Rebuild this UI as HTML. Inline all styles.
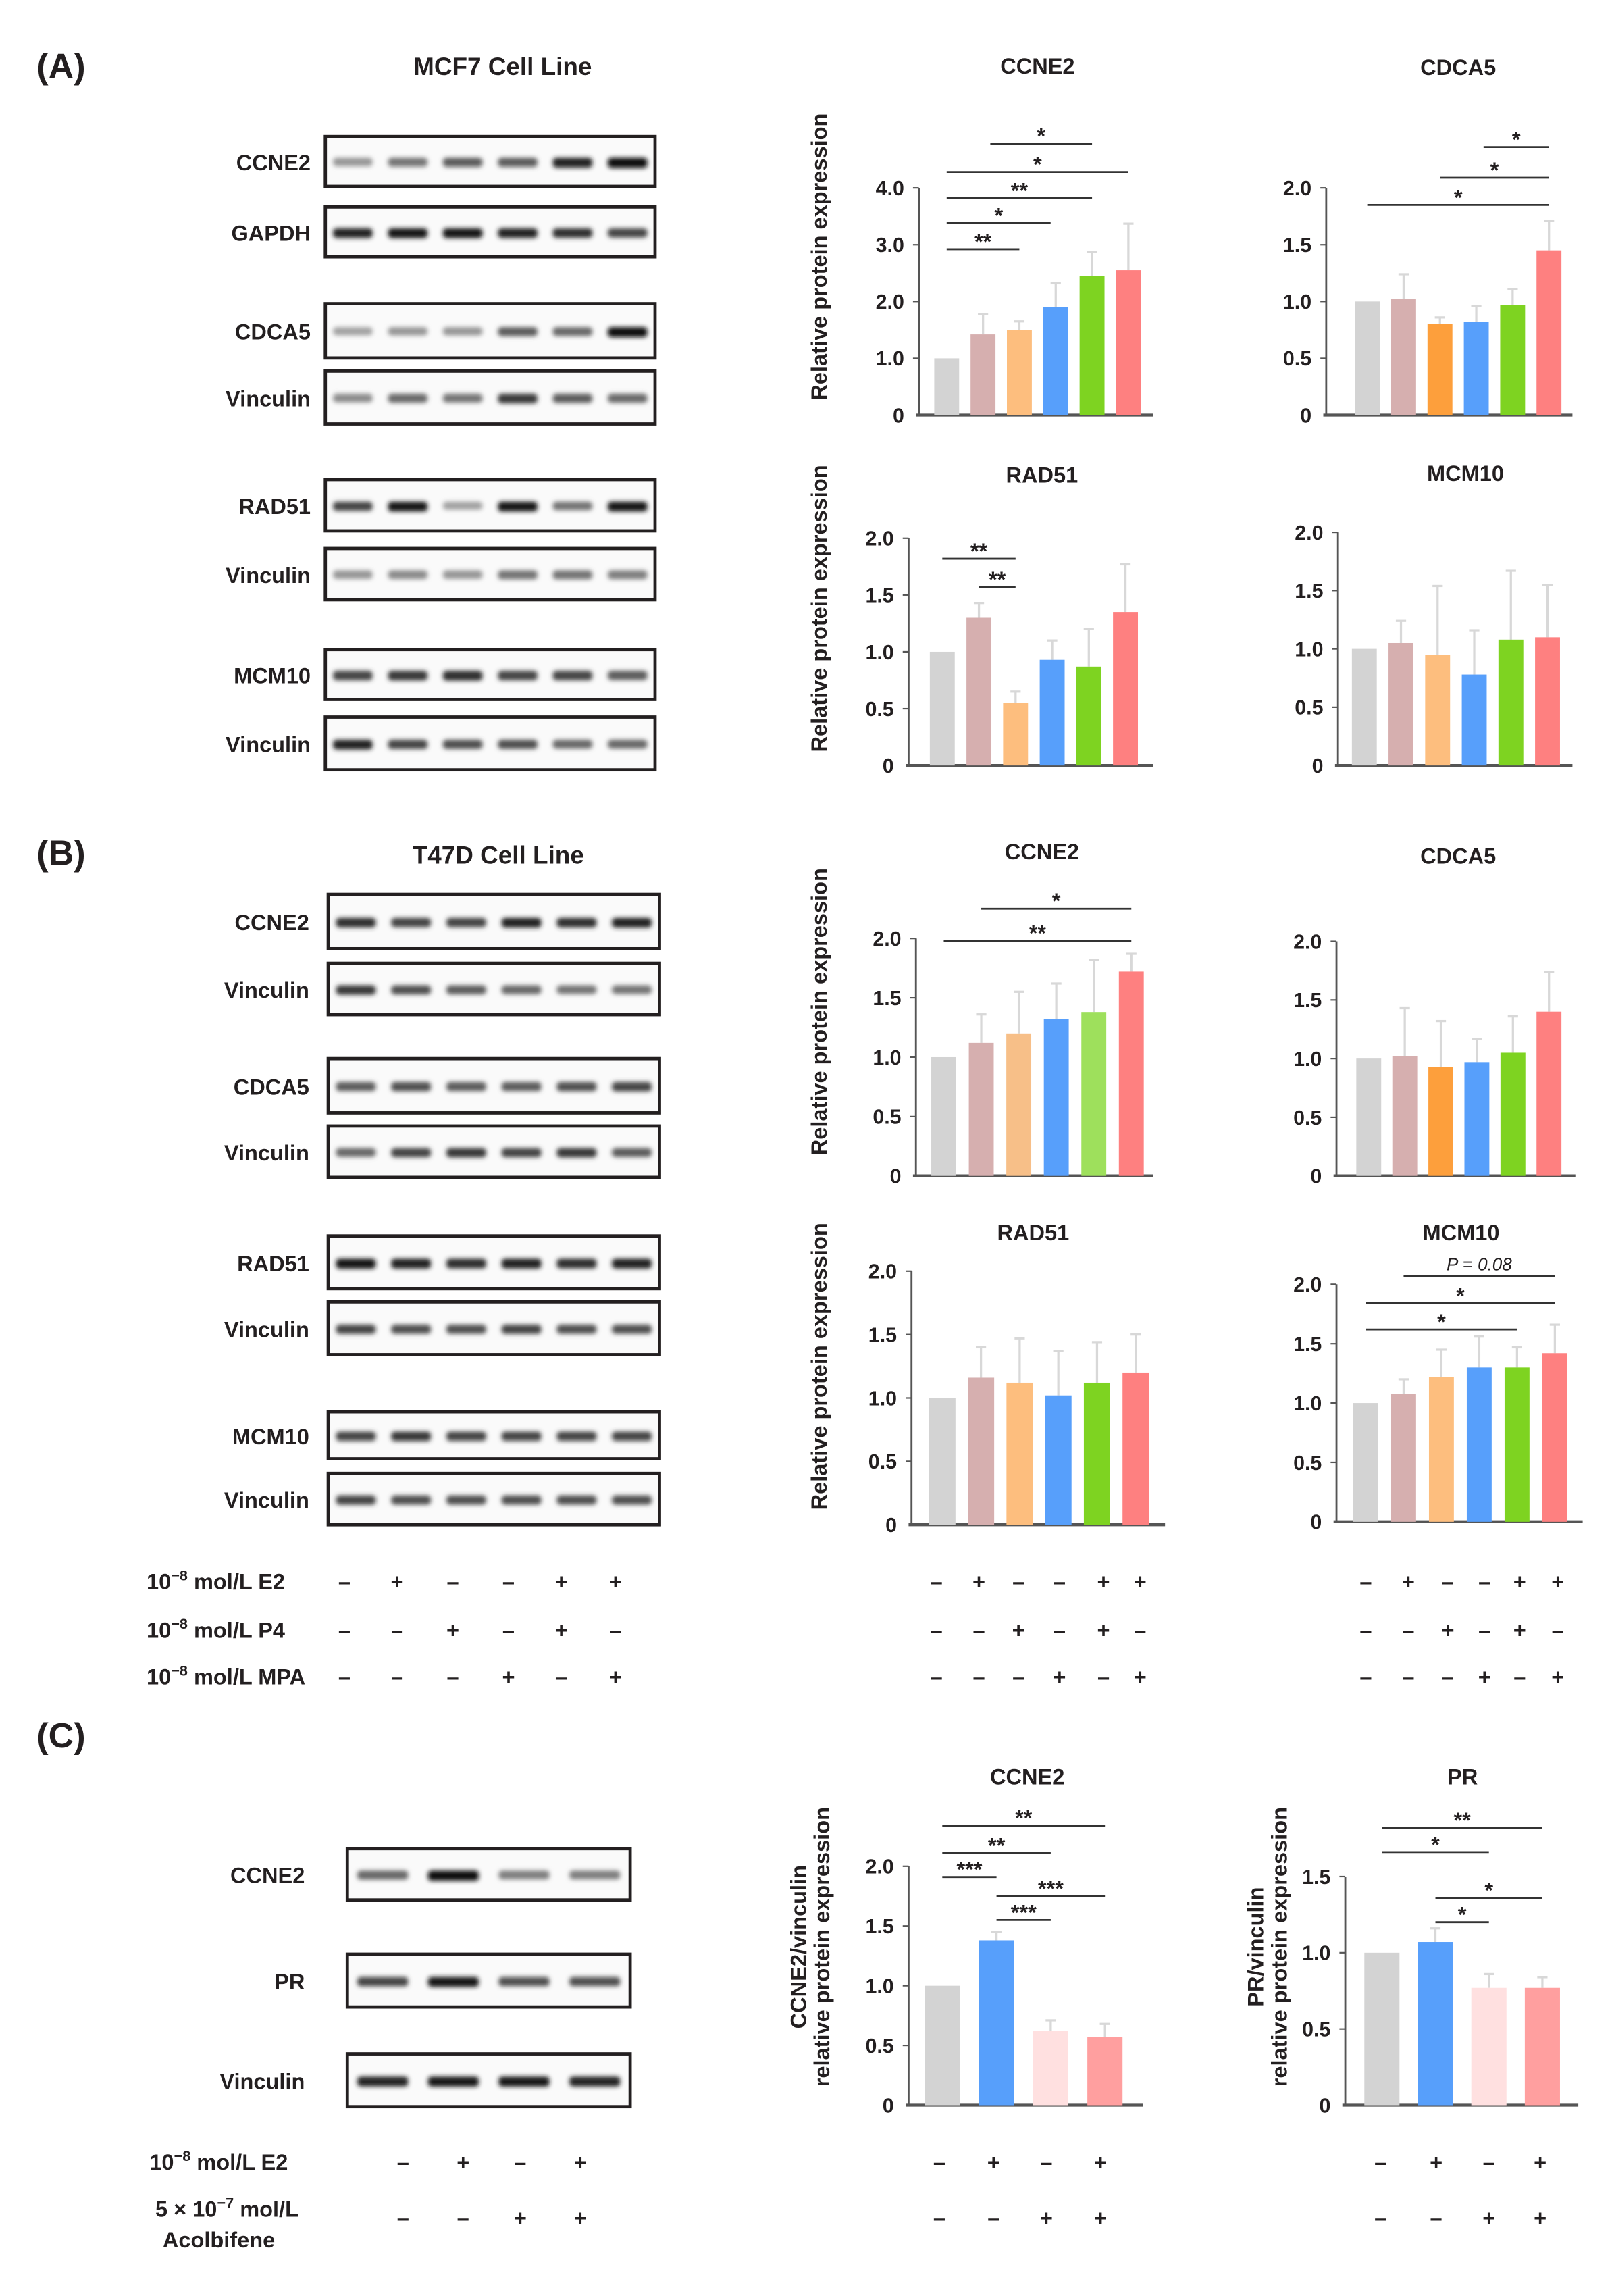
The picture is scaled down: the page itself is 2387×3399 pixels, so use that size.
<!DOCTYPE html>
<html><head><meta charset="utf-8"><style>
html,body{margin:0;padding:0;background:#fff;}
svg{display:block;}
text{font-family:"Liberation Sans",Arial,sans-serif;font-weight:bold;fill:#231f20;}
</style></head><body>
<svg id="fig" width="2387" height="3399" viewBox="0 0 1100 1566" xmlns="http://www.w3.org/2000/svg">
<defs><filter id="blur" x="-20%" y="-100%" width="140%" height="300%"><feGaussianBlur stdDeviation="1.6"/></filter></defs>
</svg>
<script>
// ---- chart data ----
const colors6=["#d3d3d3","#d6afaf","#fdbe7e","#579ffb","#7ed321","#fe8080"];
const colorsA2=["#d3d3d3","#d6afaf","#fd9f3c","#579ffb","#7ed321","#fe8080"];
const colorsB1=["#d3d3d3","#d6afaf","#f7bf88","#579ffb","#9ee05c","#fe8080"];
const colorsC=["#d3d3d3","#579ffb","#ffe0e0","#ff9f9f"];

const aCcne2Values=[1.0,1.42,1.5,1.9,2.45,2.55];
const aCcne2Err=[0,0.36,0.15,0.42,0.42,0.82];
const aCdca5Values=[1.0,1.02,0.8,0.82,0.97,1.45];
const aCdca5Err=[0,0.22,0.06,0.14,0.14,0.26];
const aRad51Values=[1.0,1.3,0.55,0.93,0.87,1.35];
const aRad51Err=[0,0.13,0.1,0.17,0.33,0.42];
const aMcm10Values=[1.0,1.05,0.95,0.78,1.08,1.1];
const aMcm10Err=[0,0.19,0.59,0.38,0.59,0.45];
const bCcne2Values=[1.0,1.12,1.2,1.32,1.38,1.72];
const bCcne2Err=[0,0.24,0.35,0.3,0.44,0.15];
const bCdca5Values=[1.0,1.02,0.93,0.97,1.05,1.4];
const bCdca5Err=[0,0.41,0.39,0.2,0.31,0.34];
const bRad51Values=[1.0,1.16,1.12,1.02,1.12,1.2];
const bRad51Err=[0,0.24,0.35,0.35,0.32,0.3];
const bMcm10Values=[1.0,1.08,1.22,1.3,1.3,1.42];
const bMcm10Err=[0,0.12,0.23,0.26,0.17,0.24];
const cCcne2Values=[1.0,1.38,0.62,0.57];
const cCcne2Err=[0,0.07,0.09,0.11];
const cPrValues=[1.0,1.07,0.77,0.77];
const cPrErr=[0,0.09,0.09,0.07];

const ticks4=["0","1.0","2.0","3.0","4.0"];
const ticks2=["0","0.5","1.0","1.5","2.0"];
const ticks15=["0","0.5","1.0","1.5"];

// brackets: [fromBar,toBar,yValue,label]
const aCcne2Sig=[[0,2,2.92,"**"],[0,2.86,3.38,"*"],[0,4,3.82,"**"],[0,5,4.28,"*"],[1.2,4,4.78,"*"]];
const aCdca5Sig=[[0,5,1.85,"*"],[2,5,2.09,"*"],[3.2,5,2.36,"*"]];
const aRad51Sig=[[0,2,1.82,"**"],[1,2,1.57,"**"]];
const bCcne2Sig=[[0,5,1.98,"**"],[1,5,2.25,"*"]];
const bMcm10Sig=[[0,4,1.62,"*"],[0,5,1.84,"*"],[1,5,2.07,"P = 0.08"]];
const cCcne2Sig=[[0,3,2.34,"**"],[0,2,2.11,"**"],[0,1,1.91,"***"],[1,3,1.75,"***"],[1,2,1.55,"***"]];
const cPrSig=[[0,3,1.82,"**"],[0,2,1.66,"*"],[1,3,1.36,"*"],[1,2,1.2,"*"]];

const svg=document.getElementById('fig');
const NS="http://www.w3.org/2000/svg";
function mk(tag,attrs,parent){const e=document.createElementNS(NS,tag);for(const k in attrs)e.setAttribute(k,attrs[k]);(parent||svg).appendChild(e);return e;}
function txt(x,y,s,size,anchor,parent){const t=mk('text',{x:x,y:y,'font-size':size,'text-anchor':anchor||'middle'},parent);t.textContent=s;return t;}

function chart(name,cfg){
  const g=mk('g',{});
  
  
  const max=cfg.max, y=v=>cfg.y0-(v/max)*(cfg.y0-cfg.yTop);
  const cx=i=>cfg.x1+i*cfg.step;
  const ya=mk('line',{x1:cfg.ax,y1:cfg.yTop,x2:cfg.ax,y2:cfg.y0,stroke:'#555','stroke-width':1.3},g);
  
  
  const xa=mk('line',{x1:cfg.ax-2,y1:cfg.y0,x2:cfg.xEnd,y2:cfg.y0,stroke:'#555','stroke-width':2},g);
  
  
  cfg.ticks.forEach((t,i)=>{
    const v=parseFloat(t), yy=y(v);
    if(i>0){mk('line',{x1:cfg.ax-4,y1:yy,x2:cfg.ax,y2:yy,stroke:'#555','stroke-width':1},g);}
    const tl=txt(cfg.ax-10,yy+5,t,14,'end',g);
    
    
  });
  cfg.values.forEach((v,i)=>{
    const e=cfg.err[i], c=cx(i);
    if(e>0){
      mk('line',{x1:c,y1:y(v),x2:c,y2:y(v+e),stroke:'#d8d8d8','stroke-width':1.5},g);
      mk('line',{x1:c-3.5,y1:y(v+e),x2:c+3.5,y2:y(v+e),stroke:'#d8d8d8','stroke-width':1.5},g);
    }
    const b=mk('rect',{x:c-cfg.bw/2,y:y(v),width:cfg.bw,height:cfg.y0-y(v),fill:cfg.colors[i]},g);
    
    
  });
  (cfg.sig||[]).forEach(s=>{
    const yy=y(s[2]);
    const l=mk('line',{x1:cx(s[0]),y1:yy,x2:cx(s[1]),y2:yy,stroke:'#333','stroke-width':1.3},g);
    
    
    const mid=(cx(s[0])+cx(s[1]))/2;
    const isP=s[3].startsWith('P');
    const st=txt(mid,isP?yy-4:yy+0,s[3],isP?12:15,'middle',g);
    if(isP){st.setAttribute('style','font-weight:normal;font-style:italic');}
    
    
  });
  const ti=txt(cfg.tx,cfg.ty,cfg.title,15,'middle',g);
  
  
}

chart('chart-a-ccne2',{values:aCcne2Values,err:aCcne2Err,colors:colors6,max:4,ticks:ticks4,ax:627,y0:283,yTop:128,x1:646,step:24.8,bw:17,xEnd:787,sig:aCcne2Sig,title:'CCNE2',tx:708,ty:50});
chart('chart-a-cdca5',{values:aCdca5Values,err:aCdca5Err,colors:colorsA2,max:2,ticks:ticks2,ax:905,y0:283,yTop:128,x1:933,step:24.8,bw:17,xEnd:1073,sig:aCdca5Sig,title:'CDCA5',tx:995,ty:51});
chart('chart-a-rad51',{values:aRad51Values,err:aRad51Err,colors:colors6,max:2,ticks:ticks2,ax:620,y0:522,yTop:367,x1:643,step:25,bw:17,xEnd:787,sig:aRad51Sig,title:'RAD51',tx:711,ty:329});
chart('chart-a-mcm10',{values:aMcm10Values,err:aMcm10Err,colors:colors6,max:2,ticks:ticks2,ax:913,y0:522,yTop:363,x1:931,step:25,bw:17,xEnd:1073,sig:[],title:'MCM10',tx:1000,ty:328});
chart('chart-b-ccne2',{values:bCcne2Values,err:bCcne2Err,colors:colorsB1,max:2,ticks:ticks2,ax:625,y0:802,yTop:640,x1:644,step:25.6,bw:17,xEnd:787,sig:bCcne2Sig,title:'CCNE2',tx:711,ty:586});
chart('chart-b-cdca5',{values:bCdca5Values,err:bCdca5Err,colors:colorsA2,max:2,ticks:ticks2,ax:912,y0:802,yTop:642,x1:934,step:24.6,bw:17,xEnd:1075,sig:[],title:'CDCA5',tx:995,ty:589});
chart('chart-b-rad51',{values:bRad51Values,err:bRad51Err,colors:colors6,max:2,ticks:ticks2,ax:622,y0:1040,yTop:867,x1:643,step:26.4,bw:18,xEnd:795,sig:[],title:'RAD51',tx:705,ty:846});
chart('chart-b-mcm10',{values:bMcm10Values,err:bMcm10Err,colors:colors6,max:2,ticks:ticks2,ax:912,y0:1038,yTop:876,x1:932,step:25.8,bw:17,xEnd:1080,sig:bMcm10Sig,title:'MCM10',tx:997,ty:846});
chart('chart-c-ccne2',{values:cCcne2Values,err:cCcne2Err,colors:colorsC,max:2,ticks:ticks2,ax:620,y0:1436,yTop:1273,x1:643,step:37,bw:24,xEnd:780,sig:cCcne2Sig,title:'CCNE2',tx:701,ty:1217});
chart('chart-c-pr',{values:cPrValues,err:cPrErr,colors:colorsC,max:1.5,ticks:ticks15,ax:918,y0:1436,yTop:1280,x1:943,step:36.5,bw:24,xEnd:1077,sig:cPrSig,title:'PR',tx:998,ty:1217});

function ytitle(x,y,lines){
  const g=mk('g',{transform:`translate(${x},${y}) rotate(-90)`});
  lines.forEach((l,i)=>{const t=txt(0,i*16,l,15,'middle',g);
    
    });
}
ytitle(564,175,["Relative protein expression"]);
ytitle(564,415,["Relative protein expression"]);
ytitle(564,690,["Relative protein expression"]);
ytitle(564,932,["Relative protein expression"]);
ytitle(550,1328,["CCNE2/vinculin","relative protein expression"]);
ytitle(862,1328,["PR/vinculin","relative protein expression"]);

[["(A)",25,53],["(B)",25,590],["(C)",25,1192]].forEach(p=>{const t=txt(p[1],p[2],p[0],24,'start');
  
  });
let tt=txt(343,51,"MCF7 Cell Line",17);


tt=txt(340,589,"T47D Cell Line",17);



const blotA=[["CCNE2",93,127,[0.35,0.5,0.6,0.6,0.85,0.95]],["GAPDH",141,175,[0.85,0.9,0.9,0.85,0.8,0.7]],["CDCA5",207,244,[0.3,0.35,0.35,0.6,0.55,0.95]],["Vinculin",253,289,[0.4,0.55,0.5,0.75,0.6,0.55]],["RAD51",327,362,[0.7,0.9,0.3,0.9,0.5,0.9]],["Vinculin",374,409,[0.35,0.4,0.35,0.5,0.5,0.45]],["MCM10",443,477,[0.7,0.75,0.8,0.7,0.7,0.6]],["Vinculin",489,525,[0.85,0.7,0.65,0.65,0.55,0.55]]];
const blotB=[["CCNE2",610,647,[0.8,0.7,0.7,0.85,0.8,0.85]],["Vinculin",657,692,[0.75,0.65,0.6,0.55,0.5,0.5]],["CDCA5",722,759,[0.6,0.65,0.6,0.6,0.65,0.7]],["Vinculin",768,803,[0.55,0.7,0.75,0.7,0.75,0.6]],["RAD51",843,879,[0.9,0.85,0.8,0.85,0.8,0.85]],["Vinculin",888,924,[0.7,0.65,0.65,0.7,0.65,0.65]],["MCM10",963,995,[0.7,0.75,0.7,0.7,0.7,0.7]],["Vinculin",1005,1040,[0.7,0.65,0.65,0.65,0.65,0.65]]];
const blotC=[["CCNE2",1261,1296,[0.55,0.95,0.45,0.45]],["PR",1333,1369,[0.7,0.9,0.65,0.65]],["Vinculin",1401,1437,[0.85,0.9,0.9,0.85]]];
function blots(list,x1,x2,lx){
  list.forEach(b=>{
    const g=mk('g',{});
    
    
    const h=b[2]-b[1], n=b[3].length, w=(x2-x1)/n;
    mk('rect',{x:x1,y:b[1],width:x2-x1,height:h,fill:'#fafafa',stroke:'#231f20','stroke-width':2.2},g);
    b[3].forEach((v,i)=>{
      const g2=Math.round(255*(1-v)*0.9);
      mk('rect',{x:x1+i*w+w*0.14,y:b[1]+h/2-2.5,width:w*0.72,height:5+v*2,rx:2.5,fill:`rgb(${g2},${g2},${g2})`,filter:'url(#blur)'},g);
    });
    const t=txt(lx,b[1]+h/2+6,b[0],15,'end',g);
    
    
  });
}
blots(blotA,222,447,212);
blots(blotB,224,450,211);
blots(blotC,237,430,208);

const e2Row=["–","+","–","–","+","+"], p4Row=["–","–","+","–","+","–"], mpaRow=["–","–","–","+","–","+"];
const e2RowC=["–","+","–","+"], acolRowC=["–","–","+","+"];
function signRow(xs,y,signs){signs.forEach((s,i)=>{const t=txt(xs[i],y,s,15,'middle');
  
  });}
[[1084,e2Row],[1117,p4Row],[1149,mpaRow]].forEach(r=>{
  signRow([235,271,309,347,383,420],r[0],r[1]);
  signRow([639,668,695,723,753,778],r[0],r[1]);
  signRow([932,961,988,1013,1037,1063],r[0],r[1]);
});
[[1480,e2RowC],[1518,acolRowC]].forEach(r=>{
  signRow([275,316,355,396],r[0],r[1]);
  signRow([641,678,714,751],r[0],r[1]);
  signRow([942,980,1016,1051],r[0],r[1]);
});
function rowLabel(x,y,html){const t=mk('text',{x:x,y:y,'font-size':15,'text-anchor':'start'});t.innerHTML=html;
  
  }
rowLabel(100,1084,'10<tspan dy="-6" font-size="10">−8</tspan><tspan dy="6"> mol/L E2</tspan>');
rowLabel(100,1117,'10<tspan dy="-6" font-size="10">−8</tspan><tspan dy="6"> mol/L P4</tspan>');
rowLabel(100,1149,'10<tspan dy="-6" font-size="10">−8</tspan><tspan dy="6"> mol/L MPA</tspan>');
rowLabel(102,1480,'10<tspan dy="-6" font-size="10">−8</tspan><tspan dy="6"> mol/L E2</tspan>');
rowLabel(106,1512,'5 × 10<tspan dy="-6" font-size="10">−7</tspan><tspan dy="6"> mol/L</tspan>');
rowLabel(111,1533,'Acolbifene');
</script>
</body></html>
